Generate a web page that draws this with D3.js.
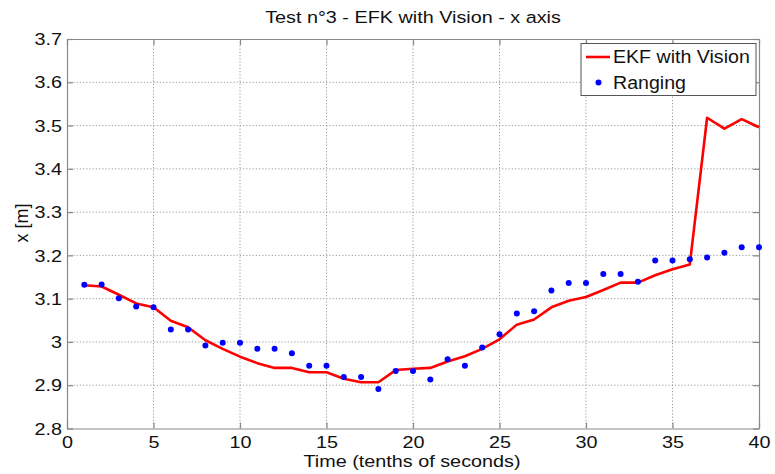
<!DOCTYPE html>
<html>
<head>
<meta charset="utf-8">
<script src="https://cdn.jsdelivr.net/npm/d3@7"></script>
<style>
  html, body { margin: 0; padding: 0; background: #fff; }
  svg { display: block; font-family: "Liberation Sans", Arial, Helvetica, sans-serif; }
</style>
</head>
<body>
<svg id="chart" width="775" height="474"></svg>
<script>
// Sample times (tenths of seconds)
const time = [1,2,3,4,5,6,7,8,9,10,11,12,13,14,15,16,17,18,19,20,
              21,22,23,24,25,26,27,28,29,30,31,32,33,34,35,36,37,38,39,40];

// x position estimated by the EKF fused with vision [m]
const ekfVision = [3.131,3.128,3.109,3.089,3.080,3.049,3.034,3.004,2.984,2.966,
                   2.951,2.940,2.940,2.930,2.930,2.915,2.907,2.907,2.935,2.938,
                   2.940,2.955,2.967,2.984,3.006,3.040,3.052,3.080,3.095,3.104,
                   3.120,3.137,3.137,3.154,3.168,3.179,3.518,3.493,3.515,3.496];

// x position from ranging measurements [m]
const ranging = [3.132,3.133,3.101,3.082,3.080,3.029,3.029,2.992,2.998,2.998,
                 2.984,2.984,2.974,2.945,2.945,2.919,2.919,2.891,2.933,2.933,
                 2.913,2.960,2.945,2.987,3.018,3.066,3.071,3.119,3.136,3.136,
                 3.157,3.157,3.139,3.188,3.188,3.191,3.195,3.206,3.219,3.219];

const xTicks = [0,5,10,15,20,25,30,35,40];
const yTicks = [2.8,2.9,3.0,3.1,3.2,3.3,3.4,3.5,3.6,3.7];
const yTickLabels = ["2.8","2.9","3","3.1","3.2","3.3","3.4","3.5","3.6","3.7"];

const titleText = "Test n°3 - EFK with Vision - x axis";
const xLabel = "Time (tenths of seconds)";
const yLabel = "x [m]";
const seriesNames = ["EKF with Vision", "Ranging"];

// Plot frame
const plotL = 67, plotR = 759, plotT = 39, plotB = 428.5;
const stretch = 1.2;   // horizontally widened lettering
const fs = 16.5;

const svg = d3.select("#chart");

const x = d3.scaleLinear().domain([0, 40]).range([plotL, plotR]);
const y = d3.scaleLinear().domain([2.8, 3.7]).range([plotB, plotT]);

// Grid lines (dotted)
const grid = svg.append("g");
grid.selectAll("line.gx").data(xTicks.slice(1, -1)).join("line")
  .attr("x1", d => x(d)).attr("x2", d => x(d))
  .attr("y1", plotT).attr("y2", plotB)
  .attr("stroke", "#9a9a9a").attr("stroke-width", 1)
  .attr("stroke-dasharray", "1.2,2");
grid.selectAll("line.gy").data(yTicks.slice(1, -1)).join("line")
  .attr("x1", plotL).attr("x2", plotR)
  .attr("y1", d => y(d)).attr("y2", d => y(d))
  .attr("stroke", "#9a9a9a").attr("stroke-width", 1)
  .attr("stroke-dasharray", "1.2,2");

// Axes with inward ticks
const tickLen = 6;
const axColor = "#888";

const gxB = svg.append("g").attr("transform", `translate(0,${plotB})`)
  .call(d3.axisBottom(x).tickValues(xTicks).tickSizeInner(-tickLen).tickSizeOuter(0).tickPadding(0));
const gxT = svg.append("g").attr("transform", `translate(0,${plotT})`)
  .call(d3.axisTop(x).tickValues(xTicks).tickSizeInner(-tickLen).tickSizeOuter(0).tickFormat(""));
const gyL = svg.append("g").attr("transform", `translate(${plotL},0)`)
  .call(d3.axisLeft(y).tickValues(yTicks).tickSizeInner(-tickLen).tickSizeOuter(0)
    .tickFormat((d, i) => yTickLabels[i]));
const gyR = svg.append("g").attr("transform", `translate(${plotR},0)`)
  .call(d3.axisRight(y).tickValues(yTicks).tickSizeInner(-tickLen).tickSizeOuter(0).tickFormat(""));

[gxB, gxT, gyL, gyR].forEach(g => {
  g.select(".domain").attr("stroke", axColor).attr("stroke-width", 1.2);
  g.selectAll(".tick line").attr("stroke", axColor).attr("stroke-width", 1.2);
});

gxB.selectAll(".tick text")
  .attr("y", 0).attr("dy", 0)
  .attr("transform", `translate(0,19) scale(${stretch},1)`)
  .attr("font-size", fs).attr("fill", "#111")
  .attr("font-family", "Liberation Sans, Arial, sans-serif");

gyL.selectAll(".tick text")
  .attr("x", 0).attr("dy", "0.34em")
  .attr("transform", `translate(-5,0) scale(${stretch},1)`)
  .attr("font-size", fs).attr("fill", "#111")
  .attr("font-family", "Liberation Sans, Arial, sans-serif");

// Title
svg.append("text")
  .attr("transform", `translate(${(plotL + plotR) / 2},23) scale(${stretch},1)`)
  .attr("text-anchor", "middle").attr("font-size", fs).attr("fill", "#111")
  .text(titleText);

// Axis labels
svg.append("text")
  .attr("transform", `translate(${(plotL + plotR) / 2 - 1},467) scale(${stretch},1)`)
  .attr("text-anchor", "middle").attr("font-size", fs).attr("fill", "#111")
  .text(xLabel);

svg.append("text")
  .attr("transform", `translate(28,223) rotate(-90)`)
  .attr("text-anchor", "middle").attr("font-size", 18).attr("fill", "#111")
  .text(yLabel);

// EKF line
const line = d3.line().x((d, i) => x(time[i])).y(d => y(d));
svg.append("path")
  .datum(ekfVision)
  .attr("d", line)
  .attr("fill", "none")
  .attr("stroke", "#ff0000")
  .attr("stroke-width", 2.6)
  .attr("stroke-linejoin", "round");

// Ranging points
svg.append("g").selectAll("circle").data(ranging).join("circle")
  .attr("cx", (d, i) => x(time[i]))
  .attr("cy", d => y(d))
  .attr("r", 3)
  .attr("fill", "#0000ff");

// Legend
const lg = svg.append("g");
lg.append("rect")
  .attr("x", 581).attr("y", 43.5).attr("width", 175).attr("height", 52)
  .attr("fill", "#fff").attr("stroke", "#555").attr("stroke-width", 1);
lg.append("line")
  .attr("x1", 586).attr("x2", 610).attr("y1", 57).attr("y2", 57)
  .attr("stroke", "#ff0000").attr("stroke-width", 2.6);
lg.append("circle")
  .attr("cx", 598.5).attr("cy", 82.5).attr("r", 3).attr("fill", "#0000ff");
lg.selectAll("text").data(seriesNames).join("text")
  .attr("transform", (d, i) => `translate(613,${63 + i * 25.5}) scale(1.12,1)`)
  .attr("font-size", 17.5).attr("fill", "#111")
  .text(d => d);
</script>
</body>
</html>
